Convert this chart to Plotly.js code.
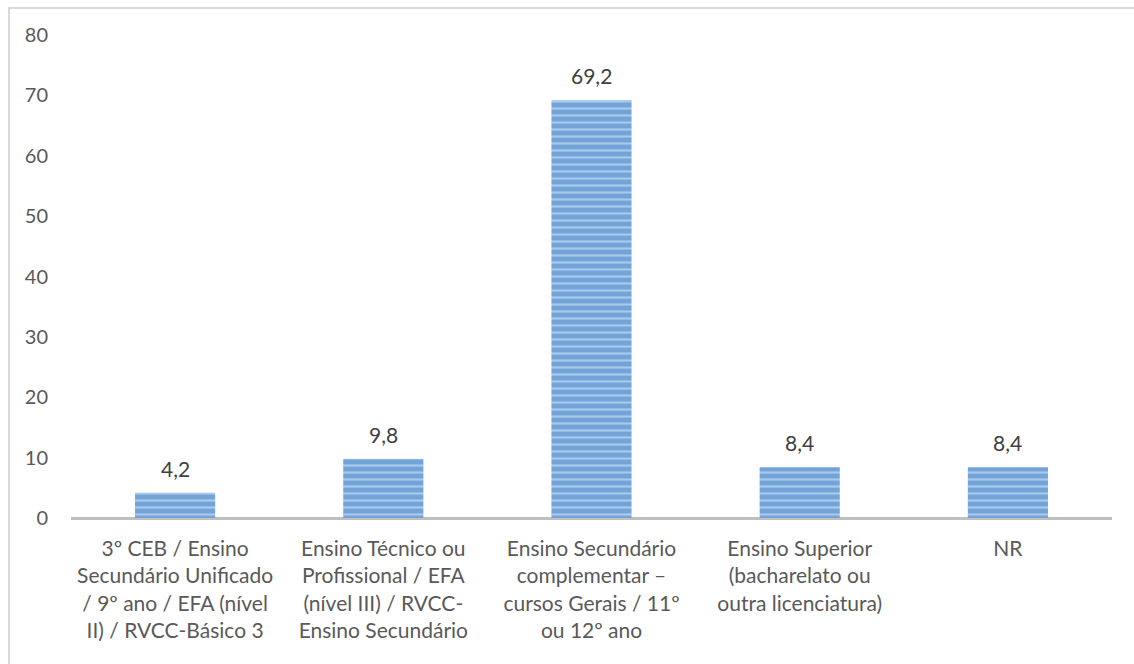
<!DOCTYPE html>
<html>
<head>
<meta charset="utf-8">
<script src="https://cdn.plot.ly/plotly-3.0.1.min.js"></script>
<style>
  html, body { margin: 0; padding: 0; background: #fff; }
  #wrap { position: relative; width: 1134px; height: 664px; overflow: hidden; }
  #frame { position: absolute; left: 8px; top: 7px; right: -2px; bottom: -2px; border-top: 2px solid #d9d9d9; border-left: 2px solid #d9d9d9; pointer-events: none; z-index: 5; }
  #chart { position: absolute; left: 0; top: 0; width: 1134px; height: 664px; }
</style>
</head>
<body>
<div id="wrap">
  <div id="chart"></div>
  <div id="frame"></div>
</div>
<script>
const categories = [
  "3º CEB / Ensino<br>Secundário Unificado<br>/ 9º ano / EFA (nível<br>II) / RVCC-Básico 3",
  "Ensino Técnico ou<br>Profissional / EFA<br>(nível III) / RVCC-<br>Ensino Secundário",
  "Ensino Secundário<br>complementar –<br>cursos Gerais / 11º<br>ou 12º ano",
  "Ensino Superior<br>(bacharelato ou<br>outra licenciatura)",
  "NR"
];
const values = [4.2, 9.8, 69.2, 8.4, 8.4];
const valueLabels = ["4,2", "9,8", "69,2", "8,4", "8,4"];
const yTicks = [0, 10, 20, 30, 40, 50, 60, 70, 80];

const FONT = "Lato, 'Open Sans', sans-serif";

const trace = {
  type: "bar",
  x: categories,
  y: values,
  marker: {
    color: "#73a6db",
    line: { width: 0 },
    pattern: { shape: "-", bgcolor: "#72a4da", fgcolor: "#abcaeb", size: 7, solidity: 0.3, fillmode: "replace" }
  },
  hoverinfo: "none"
};

const annotations = categories.map((c, i) => ({
  x: c,
  y: values[i],
  xref: "x",
  yref: "y",
  text: valueLabels[i],
  showarrow: false,
  yanchor: "bottom",
  yshift: 10,
  font: { family: FONT, size: 21, color: "#404040" }
}));

const layout = {
  width: 1134,
  height: 664,
  margin: { l: 71, r: 22, t: 35, b: 146 },
  paper_bgcolor: "#ffffff",
  plot_bgcolor: "#ffffff",
  showlegend: false,
  bargap: 0.615,
  font: { family: FONT, color: "#595959" },
  annotations: annotations,
  xaxis: {
    type: "category",
    showgrid: false,
    zeroline: false,
    showline: false,
    ticks: "",
    ticklabelstandoff: 16,
    tickfont: { family: FONT, size: 21, color: "#595959" },
    automargin: false
  },
  yaxis: {
    range: [0, 80],
    tickvals: yTicks,
    ticktext: yTicks.map(String),
    showgrid: false,
    zeroline: true,
    zerolinecolor: "#bfbfbf",
    zerolinewidth: 3,
    showline: false,
    ticks: "",
    ticklabelstandoff: 22,
    tickfont: { family: FONT, size: 20, color: "#595959" },
    automargin: false,
    fixedrange: true
  }
};

Plotly.newPlot("chart", [trace], layout, { staticPlot: true, displayModeBar: false });
</script>
</body>
</html>
